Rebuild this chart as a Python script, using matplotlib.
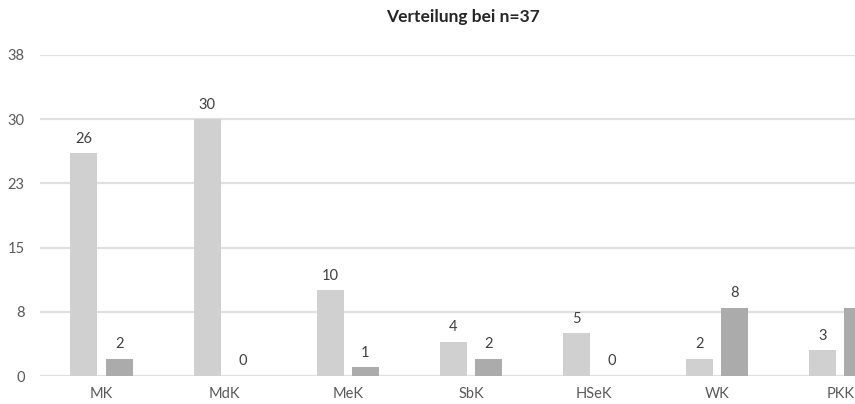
import numpy as np
import matplotlib
matplotlib.use("Agg")
import matplotlib.pyplot as plt

# Daten
categories = ["MK", "MdK", "MeK", "SbK", "HSeK", "WK", "PKK"]
series_a = [26, 30, 10, 4, 5, 2, 3]
series_b = [2, 0, 1, 2, 0, 8, 8]
y_ticks = [0, 7.5, 15, 22.5, 30, 37.5]
y_tick_labels = ["0", "8", "15", "23", "30", "38"]
title = "Verteilung bei n=37"

plt.rcParams["font.family"] = ["Lato", "DejaVu Sans"]

fig = plt.figure(figsize=(8.55, 4.04), dpi=100)
ax = fig.add_axes([40 / 855, 28 / 404, 1 - 40 / 855, 321 / 404])

x = np.arange(len(categories))
w = 0.22
off = 0.143
bars_a = ax.bar(x - off, series_a, w, color="#D0D0D0", zorder=3)
bars_b = ax.bar(x + off, series_b, w, color="#ABABAB", zorder=3)

for bars in (bars_a, bars_b):
    for b in bars:
        h = b.get_height()
        ax.annotate(f"{h:g}", (b.get_x() + b.get_width() / 2, h),
                    xytext=(0, 5.5), textcoords="offset points",
                    ha="center", va="bottom", fontsize=10.5, color="#404040")

ax.set_xlim(-0.5, 6.12)
ax.set_ylim(0, 37.5)
ax.set_yticks(y_ticks)
ax.set_yticklabels(y_tick_labels)
ax.set_xticks(x)
ax.set_xticklabels(categories)
ax.tick_params(axis="both", length=0, labelsize=10.5, labelcolor="#595959")
ax.tick_params(axis="y", pad=11)
ax.tick_params(axis="x", pad=8)
ax.grid(axis="y", color="#E0E0E0", linewidth=1.6, zorder=0)
for s in ax.spines.values():
    s.set_visible(False)

fig.text(463 / 855, 1 - 17 / 404, title, ha="center", va="center",
         fontsize=12.5, fontweight="bold", color="#262626")

fig.savefig("out.png", dpi=100)
